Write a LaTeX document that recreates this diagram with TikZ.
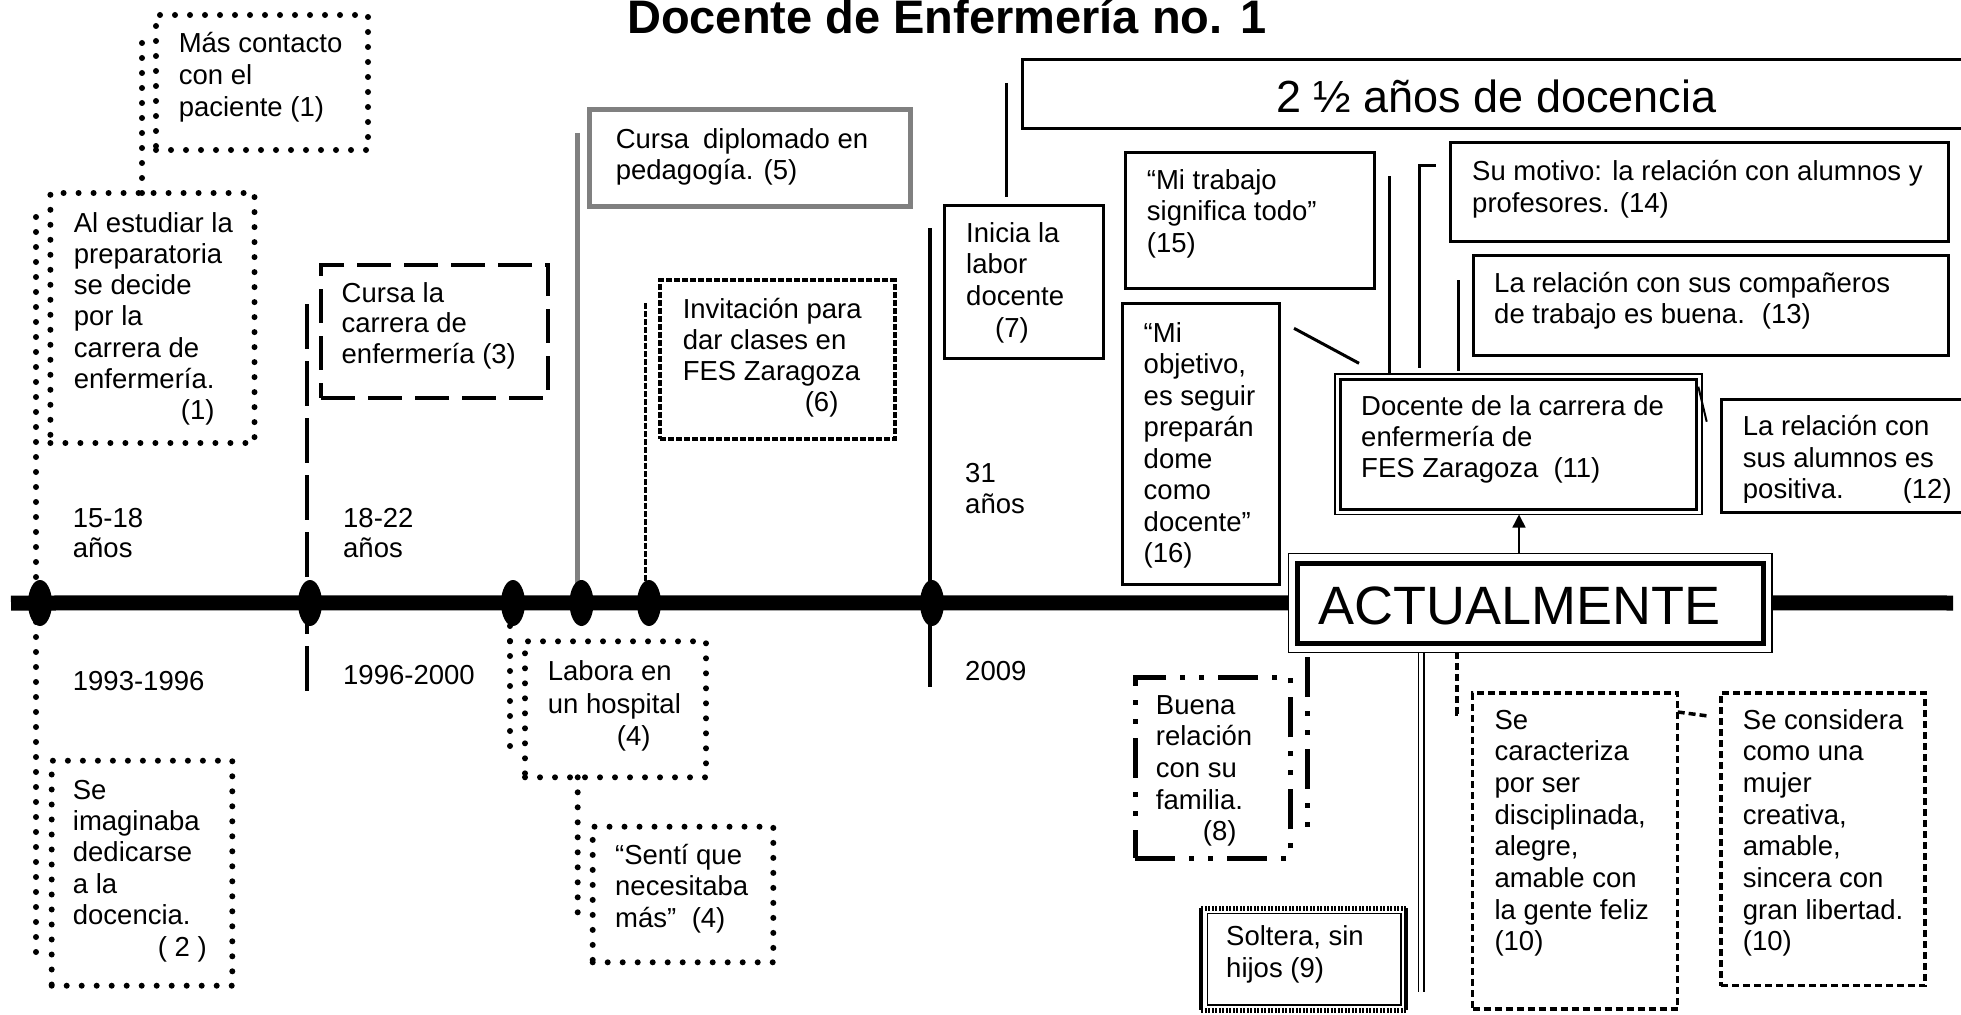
\documentclass[tikz,border=0pt]{standalone}
\usepackage{fontspec}
\setmainfont{Liberation Sans}
\usetikzlibrary{shapes.geometric,arrows.meta}
\newcommand\bodyfont{\fontsize{27.5pt}{31.5pt}\selectfont}
\newcommand\lns[2][31.5pt]{\vtop{\baselineskip=#1\relax\lineskiplimit=-1000pt\lineskip=0pt\halign{##\hfil\cr#2\crcr}}}
\newcommand\bxn[6]{\node[#1,inner sep=0pt,outer sep=0pt,minimum width={(#5)-(#3)},minimum height={(#6)-(#4)}] (#2) at ({((#3)+(#5))/2},{((#4)+(#6))/2}) {};}
\begin{document}
\begin{tikzpicture}[x=1pt,y=-1pt,
  txt/.style={anchor=base west,inner sep=0pt,font=\bodyfont},
  conn/.style={line width=3pt},
  solidbox/.style={draw,line width=3pt},
  dotline/.style={line width=6pt,line cap=round,dash pattern=on 0pt off 15pt},
  dotbox/.style={draw,dotline},
  dashbox/.style={draw,line width=4pt,dash pattern=on 34pt off 13pt},
  dashline/.style={line width=4pt,dash pattern=on 45pt off 12pt},
  graybox/.style={draw=black!50,line width=5pt},
  grayline/.style={draw=black!50,line width=5pt},
  patbox/.style={draw,line width=4pt,dash pattern=on 6pt off 2pt},
  patline/.style={line width=3pt,dash pattern=on 6pt off 2pt},
  ddline/.style={line width=5pt,dash pattern=on 40pt off 14pt on 5pt off 14pt on 5pt off 14pt},
  ddbox/.style={draw,ddline},
  slline/.style={line width=3.5pt,dash pattern=on 7pt off 4pt},
  slbox/.style={draw,slline},
  thinline/.style={line width=1.5pt},
  ell/.style={ellipse,fill=black,inner sep=0pt,minimum width=24pt,minimum height=46pt}
]
\useasboundingbox (0,0) rectangle (1961,1014);
\clip (0,0) rectangle (1961,1014);

% ---------- boxes (nodes) ----------
\bxn{dotbox}{A}{156}{15}{368}{150}
\bxn{dotbox}{B}{50.4}{193}{254.5}{443}
\bxn{dotbox}{C}{51.7}{760.7}{232.3}{985.7}
\bxn{dashbox}{D}{321.4}{265}{548.2}{398}
\bxn{graybox}{E}{589.3}{110}{910.3}{206.7}
\bxn{patbox}{F}{660}{280}{894.6}{439}
\bxn{dotbox}{lab}{525}{641.3}{706}{777.3}
\bxn{dotbox}{sen}{592.7}{826.7}{773.3}{962.3}
\bxn{solidbox}{G}{944}{205}{1103.6}{358}
\bxn{solidbox}{Y}{1022}{60}{2010}{128.3}
\bxn{solidbox}{H}{1125}{152}{1374.5}{288.3}
\bxn{solidbox}{I}{1122.3}{303}{1279.5}{584}
\bxn{solidbox}{J}{1450.5}{142.7}{1948}{241.7}
\bxn{solidbox}{K}{1473.4}{255}{1948}{355}
\bxn{draw,thinline}{L}{1335}{374}{1702}{514.5}
\bxn{draw,line width=3pt}{Lin}{1340.7}{379.5}{1696.5}{509}
\bxn{solidbox}{M}{1721}{399}{2010}{512.5}
\bxn{ddbox}{O}{1135}{677.3}{1290}{858.3}
\bxn{}{Q}{1201.3}{908.2}{1406}{1010}
\bxn{slbox}{P}{1472.7}{693}{1677.7}{1009}
\bxn{slbox}{R}{1721}{693}{1925}{985.7}

% ---------- timeline ----------
\coordinate (tlL) at (11,603);
\coordinate (tlR) at (1953,603);
\bxn{draw,thinline,fill=white}{N}{1288.3}{553.3}{1772}{652.3}
\bxn{draw,line width=5pt}{Nin}{1297}{563.2}{1763.5}{643.2}
\draw[line width=15pt] (tlL) -- (N.west);
\draw[line width=15pt] (N.east) -- (tlR);

% ---------- connectors ----------
\coordinate (aC) at (142,43);
\draw[dotline] (aC) -- (aC |- B.north);
\coordinate (bC1) at (36,217);
\coordinate (bC2) at (36,954);
\draw[dotline] (bC1) -- (bC2);
\coordinate (dC1) at (307,293);
\coordinate (dC2) at (307,690.7);
\draw[dashline] (dC2) -- (dC1);
\coordinate (eC) at (577.5,133);
\coordinate (eCb) at (577.5,585);
\draw[grayline] (eC) -- (eCb);
\coordinate (fC) at (645.7,303);
\coordinate (fCb) at (645.7,585);
\draw[patline] (fC) -- (fCb);
\coordinate (labC1) at (510,626);
\coordinate (labC2) at (510,747);
\coordinate (labC3) at (510,641.3);
\draw[dotline] (labC1) -- (labC2);
\draw[dotline] (labC3) -- (lab.north west);
\coordinate (senC) at (577.7,924);
\draw[dotline] (lab.south -| senC) -- (senC);
\coordinate (n9t) at (930,228);
\coordinate (n9b) at (930,687);
\draw[line width=3.3pt] (n9t) -- (n9b);
\coordinate (g1) at (1006.3,83);
\coordinate (g2) at (1006.3,197);
\draw[conn] (g1) -- (g2);
\coordinate (l1) at (1389,176);
\draw[conn] (l1) -- (l1 |- L.north);
\coordinate (l2h) at (1435.7,165.7);
\coordinate (l2t) at (1419.3,165.7);
\coordinate (l2b) at (1419.3,368.3);
\draw[conn] (l2h) -- (l2t) -- (l2b);
\coordinate (l3t) at (1458.7,280);
\coordinate (l3b) at (1458.7,370.7);
\draw[conn] (l3t) -- (l3b);
\coordinate (dg1) at (1294,328.3);
\coordinate (dg2) at (1359,363.3);
\draw[conn] (dg1) -- (dg2);
\coordinate (tk1) at (1698.3,386.7);
\coordinate (tk2) at (1706.7,421.7);
\draw[line width=2pt] (tk1) -- (tk2);
\coordinate (arx) at (1519,600);
\draw[line width=1.5pt,-{Triangle[length=13pt,width=13pt]}] (N.north -| arx) -- (L.south -| arx);
\coordinate (o1) at (1307.3,657.3);
\coordinate (o2) at (1307.3,832.3);
\draw[ddline] (o1) -- (o2);
\coordinate (q1) at (1418.3,992);
\coordinate (q2) at (1424,992);
\draw[line width=1.3pt] (N.south -| q1) -- (q1);
\draw[line width=1.3pt] (N.south -| q2) -- (q2);
\coordinate (pc1) at (1457,714);
\coordinate (pc2) at (1461,714);
\draw[slline] (N.south -| pc1) -- (pc1) -- (pc2);
\coordinate (prA) at (1677.7,712);
\coordinate (prB) at (1708,716);
\draw[slline] (prA) -- (prB);

% ---------- Q box border ----------
\draw[line width=5pt,dash pattern=on 2pt off 1.5pt] (Q.north west) -- (Q.north east);
\draw[line width=5pt,dash pattern=on 2pt off 1.5pt] (Q.south west) -- (Q.south east);
\draw[line width=4pt] (Q.north west) -- (Q.south west);
\draw[line width=4pt] (Q.north east) -- (Q.south east);
\draw[line width=1.2pt] ([shift={(6,5)}]Q.north west) rectangle ([shift={(-5,-5)}]Q.south east);

% ---------- ellipses ----------
\node[ell] (e1) at (40,603) {};
\node[ell] (e2) at (310,603) {};
\node[ell] (e3) at (513,603) {};
\node[ell] (e4) at (581.5,603) {};
\node[ell] (e5) at (649,603) {};
\node[ell] (e6) at (932,603) {};

% ---------- texts ----------
\node[anchor=base west,inner sep=0pt,font=\fontsize{47pt}{50pt}\selectfont\bfseries] (title) at (627,34) {Docente de Enfermería no. 1};
\node[txt] (tA) at (178.6,53) {\lns[32pt]{Más contacto\cr con el\cr paciente (1)}};
\node[txt] (tB) at (73.7,232) {\lns[31.3pt]{Al estudiar la\cr preparatoria\cr se decide\cr por la\cr carrera de\cr enfermería.\cr \hskip107pt(1)}};
\node[txt] (t1518) at (72.7,527) {\lns[30pt]{15-18\cr años}};
\node[txt] (t1822) at (343,527) {\lns[30pt]{18-22\cr años}};
\node[txt] (t9396) at (72.7,690) {1993-1996};
\node[txt] (t9600) at (343,684) {1996-2000};
\node[txt] (tC) at (72.7,799) {\lns[31.4pt]{Se\cr imaginaba\cr dedicarse\cr a la\cr docencia.\cr \hskip85pt( 2 )}};
\node[txt] (tD) at (341.5,302) {\lns[30.5pt]{Cursa la\cr carrera de\cr enfermería (3)}};
\node[txt] (tE) at (615.6,149) {\lns[31pt]{Cursa\hskip14pt diplomado en\cr pedagogía. (5)}};
\node[txt] (tF) at (682.6,318) {\lns[31.3pt]{Invitación para\cr dar clases en\cr FES Zaragoza\cr \hskip122pt(6)}};
\node[txt] (tLab) at (547.7,680.7) {\lns[32.5pt]{Labora en\cr un hospital\cr \hskip69pt(4)}};
\node[txt] (tSen) at (615,864) {\lns[31.7pt]{“Sentí que\cr necesitaba\cr más”\hskip15.5pt(4)}};
\node[txt] (tG) at (966,242) {\lns[31.7pt]{Inicia la\cr labor\cr docente\cr \hskip29pt(7)}};
\node[txt] (t31) at (965,482) {\lns[31pt]{31\cr años}};
\node[txt] (t2009) at (965,680.7) {2009};
\node[anchor=base west,inner sep=0pt,font=\fontsize{45pt}{50pt}\selectfont] (tY) at (1276,113) {2 ½ años de docencia};
\node[txt] (tH) at (1146.7,189) {\lns[31.5pt]{“Mi trabajo\cr significa todo”\cr (15)}};
\node[txt] (tI) at (1143.5,342) {\lns[31.5pt]{“Mi\cr objetivo,\cr es seguir\cr preparán\cr dome\cr como\cr docente”\cr (16)}};
\node[txt] (tJ) at (1472,180) {\lns[32pt]{Su motivo: la relación con alumnos y\cr profesores. (14)}};
\node[txt] (tK) at (1494,292) {\lns[31pt]{La relación con sus compañeros\cr de trabajo es buena.\hskip17pt(13)}};
\node[txt] (tL) at (1361,415) {\lns[31pt]{Docente de la carrera de\cr enfermería de\cr FES Zaragoza\hskip15pt(11)}};
\begin{scope}
\clip (1721,399) rectangle (1961,502);
\node[txt] (tM) at (1742.7,435.5) {\lns[31.6pt]{La relación con\cr sus alumnos es\cr positiva.\hskip59pt(12)}};
\end{scope}
\node[anchor=base west,inner sep=0pt,font=\fontsize{54pt}{60pt}\selectfont] (tN) at (1318.3,624) {ACTUALMENTE};
\node[txt] (tO) at (1155.7,714) {\lns[31.7pt]{Buena\cr relación\cr con su\cr familia.\cr \hskip47pt(8)}};
\node[txt] (tQ) at (1226,945.7) {\lns[31.6pt]{Soltera, sin\cr hijos (9)}};
\node[txt] (tP) at (1494.3,729) {\lns[31.67pt]{Se\cr caracteriza\cr por ser\cr disciplinada,\cr alegre,\cr amable con\cr la gente feliz\cr (10)}};
\node[txt] (tR) at (1742.7,729) {\lns[31.67pt]{Se considera\cr como una\cr mujer\cr creativa,\cr amable,\cr sincera con\cr gran libertad.\cr (10)}};
\end{tikzpicture}
\end{document}
